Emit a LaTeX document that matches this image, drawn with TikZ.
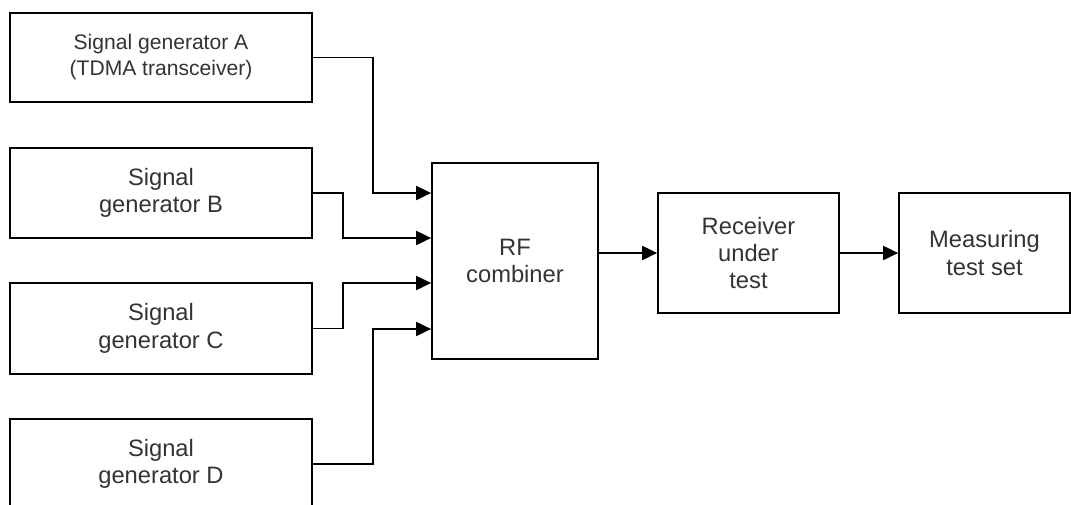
\documentclass[tikz,border=0pt]{standalone}
\usepackage{fontspec}
\setmainfont{Liberation Sans}
\usetikzlibrary{arrows.meta}
\definecolor{textgrey}{HTML}{333333}
\tikzset{
  block/.style={draw, line width=1pt, rectangle, align=center, inner sep=0pt,
    text=textgrey, font=\fontsize{13.5pt}{15.6pt}\selectfont},
  link/.style={line width=1.1pt, -{Triangle[length=0.3cm, width=0.28cm]}}
}
\begin{document}
\begin{tikzpicture}[x=0.02cm, y=-0.02cm]
      \useasboundingbox (0,0) rectangle (1071,504);
      \clip (0,0) rectangle (1071,504);
      \draw
        (161,57.5) node[block, minimum width=6.04cm, minimum height=1.78cm,
          font=\fontsize{12pt}{14.8pt}\selectfont] (gena){Signal generator A\\(TDMA transceiver)}
        (161,193) node[block, minimum width=6.04cm, minimum height=1.8cm] (genb){Signal\\generator B}
        (161,328.5) node[block, minimum width=6.04cm, minimum height=1.82cm] (genc){Signal\\generator C}
        (161,464) node[block, minimum width=6.04cm, minimum height=1.8cm] (gend){Signal\\generator D}
        (515,261) node[block, minimum width=3.32cm, minimum height=3.92cm] (comb){RF\\combiner}
        (748.5,253) node[block, minimum width=3.62cm, minimum height=2.4cm] (rcv){Receiver\\under\\test}
        (984.5,253) node[block, minimum width=3.42cm, minimum height=2.4cm] (meas){Measuring\\test set};
      \begin{scope}[link]
        \draw (gena.east) -- ++(60,0) |- ([yshift=1.36cm]comb.west);
        \draw (genb.east) -- ++(30,0) |- ([yshift=0.46cm]comb.west);
        \draw (genc.east) -- ++(30,0) |- ([yshift=-0.44cm]comb.west);
        \draw (gend.east) -- ++(60,0) |- ([yshift=-1.36cm]comb.west);
        \draw (comb.east |- rcv.west) -- (rcv.west);
        \draw (rcv.east) -- (meas.west);
      \end{scope}
    \end{tikzpicture}
\end{document}
